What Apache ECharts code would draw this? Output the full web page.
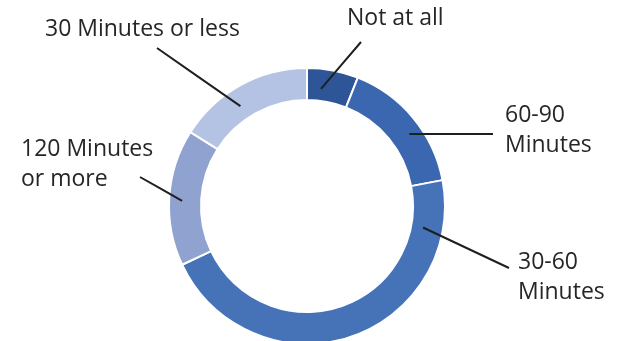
<!DOCTYPE html>
<html>
<head>
<meta charset="utf-8">
<script src="https://cdn.jsdelivr.net/npm/echarts@6/dist/echarts.min.js"></script>
<style>
  html, body { margin: 0; padding: 0; background: #fff; }
  #chart { width: 623px; height: 341px; }
</style>
</head>
<body>
<div id="chart"></div>
<script>
  // data, clockwise from 12 o'clock
  var categories = ['Not at all', '60-90\nMinutes', '30-60\nMinutes', '120 Minutes\nor more', '30 Minutes or less'];
  var shares = [6, 16, 46, 16, 16];
  var colors = ['#2E5597', '#3A67AF', '#4672B8', '#8FA2D0', '#B4C2E3'];

  var cx = 307, cy = 206;

  // where each label sits and where its leader line touches the ring
  var spots = [
    { x: 347, y: 18,  tail: [361, 42],  angle: 6.8,   r: 118 },
    { x: 505, y: 130, tail: [493, 134], angle: 54.9,  r: 125 },
    { x: 518, y: 277, tail: [509, 268], angle: 100.5, r: 118 },
    { x: 21,  y: 164, tail: [140, 177], angle: 272.3, r: 125 },
    { x: 45,  y: 29,  tail: [157, 48],  angle: 326.3, r: 120 }
  ];

  var chart = echarts.init(document.getElementById('chart'));

  var ringData = [];
  var labelData = [];
  for (var i = 0; i < categories.length; i++) {
    ringData.push({ name: categories[i], value: shares[i], itemStyle: { color: colors[i] } });
    labelData.push({ name: categories[i], value: shares[i] });
  }

  chart.setOption({
    backgroundColor: '#fff',
    animation: false,
    series: [{
      // the ring itself
      type: 'pie',
      z: 2,
      center: [cx, cy],
      radius: [106, 138],
      startAngle: 90,
      clockwise: true,
      itemStyle: {
        borderColor: '#fff',
        borderWidth: 2
      },
      label: { show: false },
      labelLine: { show: false },
      data: ringData
    }, {
      // same slices, transparent, so labels + leader lines sit on top of the ring
      type: 'pie',
      z: 3,
      silent: true,
      center: [cx, cy],
      radius: [106, 138],
      startAngle: 90,
      clockwise: true,
      avoidLabelOverlap: false,
      itemStyle: { color: 'rgba(0,0,0,0)', borderWidth: 0 },
      label: {
        show: true,
        position: 'outside',
        formatter: '{b}',
        color: '#262626',
        fontFamily: 'Open Sans',
        fontSize: 23,
        lineHeight: 30
      },
      labelLine: {
        show: true,
        lineStyle: { color: '#1f1f1f', width: 2 }
      },
      labelLayout: function (p) {
        var s = spots[p.dataIndex];
        var a = s.angle * Math.PI / 180;
        var end = [cx + s.r * Math.sin(a), cy - s.r * Math.cos(a)];
        var mid = [(s.tail[0] + end[0]) / 2, (s.tail[1] + end[1]) / 2];
        return {
          x: s.x,
          y: s.y,
          align: 'left',
          verticalAlign: 'middle',
          labelLinePoints: [s.tail, mid, end]
        };
      },
      data: labelData
    }]
  });
</script>
</body>
</html>
